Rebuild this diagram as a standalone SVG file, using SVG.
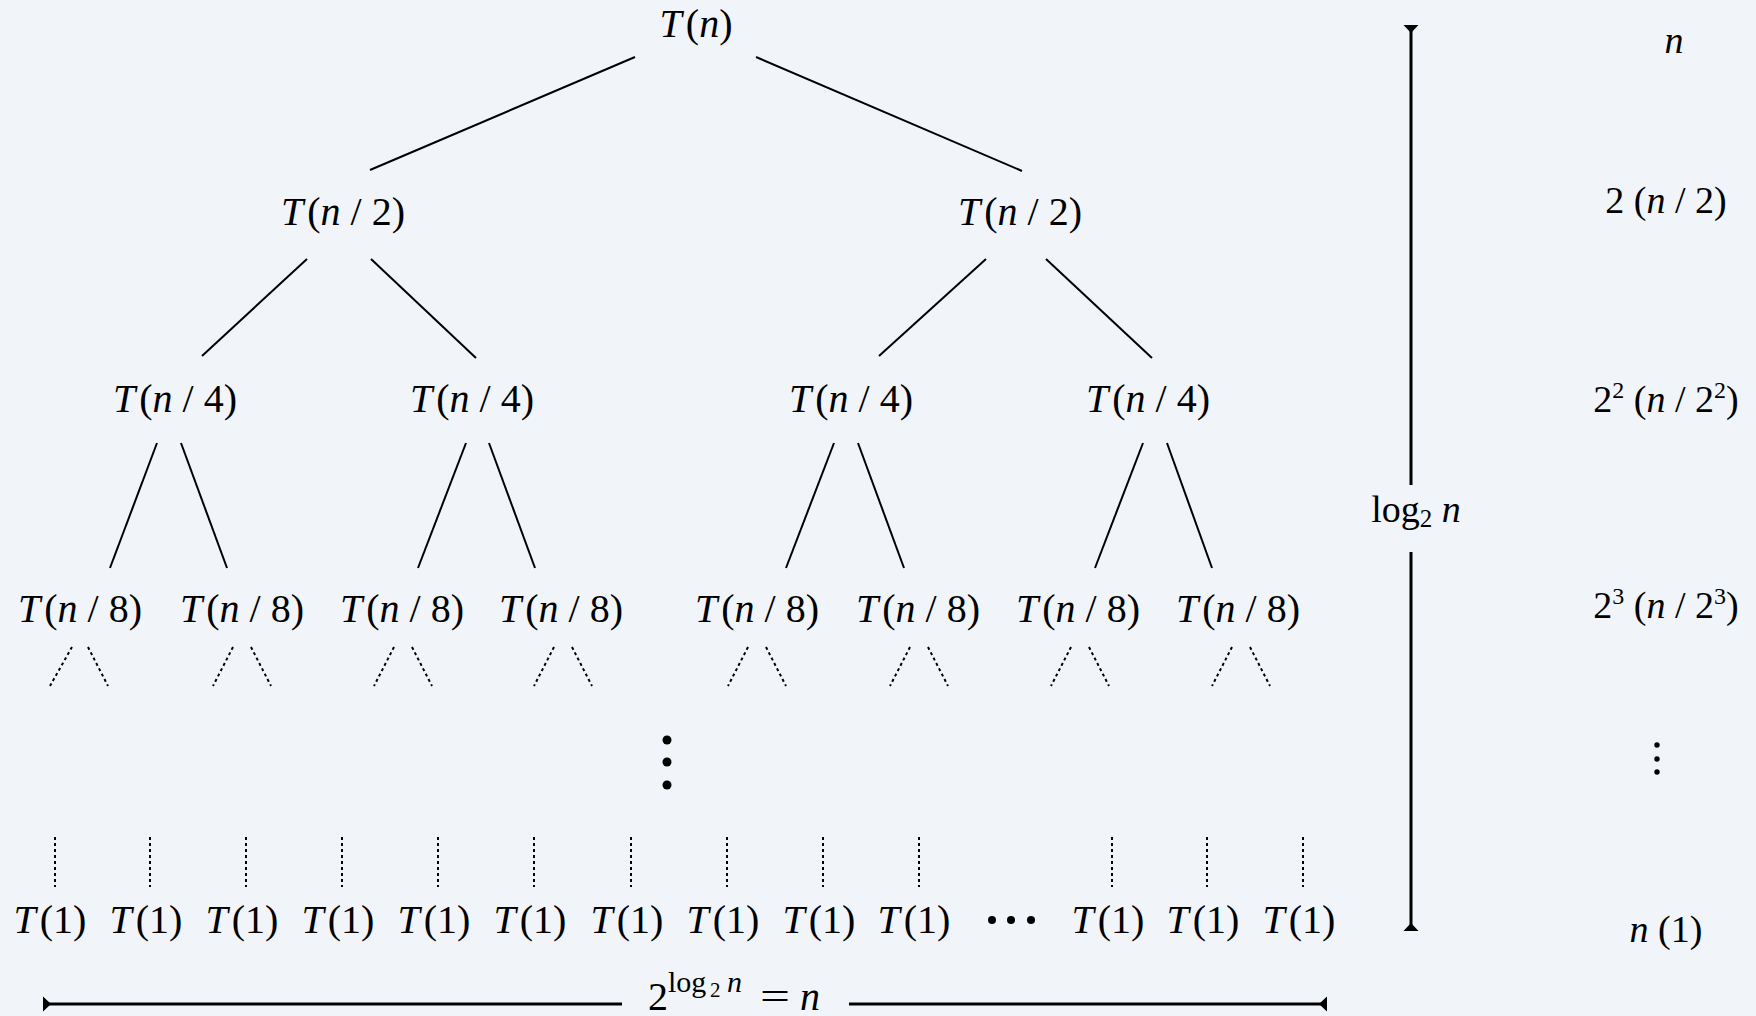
<svg xmlns="http://www.w3.org/2000/svg" width="1756" height="1016" viewBox="0 0 1756 1016">
<style>
.t{font-family:"Liberation Serif","Times New Roman",serif;font-size:40px;fill:#000;text-anchor:middle}
.r{font-family:"Liberation Serif","Times New Roman",serif;font-size:38px;fill:#000;text-anchor:middle}
.w{font-family:"Liberation Serif","Times New Roman",serif;font-size:40px;fill:#000}
.i{font-style:italic}
.e{stroke:#000;stroke-width:2;fill:none}
.d{stroke:#000;stroke-width:2;fill:none;stroke-dasharray:3 3}
.a{stroke:#000;stroke-width:3;fill:none;marker-start:url(#tip);marker-end:url(#tip)}
</style>
<defs>
<marker id="tip" markerUnits="userSpaceOnUse" viewBox="-10 -8 12 16" markerWidth="12" markerHeight="16" refX="0" refY="0" orient="auto-start-reverse" overflow="visible">
<path d="M0,-7.5 L0,7.5 L-8,0 Z" fill="#000"/>
</marker>
</defs>
<rect width="1756" height="1016" fill="#f1f5f9"/>

<g id="connectors">
<line class="e" x1="635" y1="57" x2="370" y2="170"/>
<line class="e" x1="756" y1="57" x2="1022" y2="171"/>
<line class="e" x1="307" y1="259" x2="202" y2="356"/>
<line class="e" x1="371" y1="259" x2="476" y2="358"/>
<line class="e" x1="986" y1="259" x2="879" y2="356"/>
<line class="e" x1="1046" y1="259" x2="1152" y2="358"/>
<line class="e" x1="157" y1="443" x2="110" y2="568"/>
<line class="e" x1="181" y1="443" x2="227" y2="568"/>
<line class="e" x1="466" y1="443" x2="418" y2="568"/>
<line class="e" x1="489" y1="443" x2="535" y2="568"/>
<line class="e" x1="834" y1="443" x2="786" y2="568"/>
<line class="e" x1="858" y1="443" x2="904" y2="568"/>
<line class="e" x1="1143" y1="443" x2="1095" y2="568"/>
<line class="e" x1="1167" y1="443" x2="1212" y2="568"/>
<g id="leaf-stubs">
<path class="d" d="M72,647 L50,686 M88,647 L108,686"/>
<path class="d" d="M233,647 L213,686 M251,647 L271,686"/>
<path class="d" d="M394,647 L374,686 M412,647 L432,686"/>
<path class="d" d="M554,647 L534,686 M572,647 L592,686"/>
<path class="d" d="M748,647 L728,686 M766,647 L786,686"/>
<path class="d" d="M910,647 L890,686 M928,647 L948,686"/>
<path class="d" d="M1071,647 L1051,686 M1089,647 L1109,686"/>
<path class="d" d="M1232,647 L1212,686 M1250,647 L1270,686"/>
</g>
<g id="leaf-verticals">
<path class="d" d="M55,837V887 M150,837V887 M246,837V887 M342,837V887 M438,837V887 M534,837V887 M631,837V887 M727,837V887 M823,837V887 M919,837V887 M1112,837V887 M1207,837V887 M1303,837V887"/>
</g>
<g id="dimensions">
<line class="a" x1="1411" y1="25" x2="1411" y2="485" style="marker-end:none"/>
<line class="a" x1="1411" y1="552" x2="1411" y2="931" style="marker-start:none"/>
<line class="a" x1="43" y1="1004" x2="622" y2="1004" style="marker-end:none"/>
<line class="a" x1="849" y1="1004" x2="1327" y2="1004" style="marker-start:none"/>
</g>
</g>

<g id="n-root"><text class="t" x="696" y="37"><tspan class="i">T</tspan><tspan dx="4">(</tspan><tspan class="i">n</tspan>)</text></g>

<g id="n-2a"><text class="t" x="343" y="225"><tspan class="i">T</tspan><tspan dx="4">(</tspan><tspan class="i">n</tspan> / 2)</text></g>
<g id="n-2b"><text class="t" x="1020" y="225"><tspan class="i">T</tspan><tspan dx="4">(</tspan><tspan class="i">n</tspan> / 2)</text></g>

<g id="n-4a"><text class="t" x="175" y="412"><tspan class="i">T</tspan><tspan dx="4">(</tspan><tspan class="i">n</tspan> / 4)</text></g>
<g id="n-4b"><text class="t" x="472" y="412"><tspan class="i">T</tspan><tspan dx="4">(</tspan><tspan class="i">n</tspan> / 4)</text></g>
<g id="n-4c"><text class="t" x="851" y="412"><tspan class="i">T</tspan><tspan dx="4">(</tspan><tspan class="i">n</tspan> / 4)</text></g>
<g id="n-4d"><text class="t" x="1148" y="412"><tspan class="i">T</tspan><tspan dx="4">(</tspan><tspan class="i">n</tspan> / 4)</text></g>

<g id="n-8a"><text class="t" x="80" y="622"><tspan class="i">T</tspan><tspan dx="4">(</tspan><tspan class="i">n</tspan> / 8)</text></g>
<g id="n-8b"><text class="t" x="242" y="622"><tspan class="i">T</tspan><tspan dx="4">(</tspan><tspan class="i">n</tspan> / 8)</text></g>
<g id="n-8c"><text class="t" x="402" y="622"><tspan class="i">T</tspan><tspan dx="4">(</tspan><tspan class="i">n</tspan> / 8)</text></g>
<g id="n-8d"><text class="t" x="561" y="622"><tspan class="i">T</tspan><tspan dx="4">(</tspan><tspan class="i">n</tspan> / 8)</text></g>
<g id="n-8e"><text class="t" x="757" y="622"><tspan class="i">T</tspan><tspan dx="4">(</tspan><tspan class="i">n</tspan> / 8)</text></g>
<g id="n-8f"><text class="t" x="918" y="622"><tspan class="i">T</tspan><tspan dx="4">(</tspan><tspan class="i">n</tspan> / 8)</text></g>
<g id="n-8g"><text class="t" x="1078" y="622"><tspan class="i">T</tspan><tspan dx="4">(</tspan><tspan class="i">n</tspan> / 8)</text></g>
<g id="n-8h"><text class="t" x="1238" y="622"><tspan class="i">T</tspan><tspan dx="4">(</tspan><tspan class="i">n</tspan> / 8)</text></g>

<g id="vdots-mid" fill="#000"><circle cx="667" cy="740" r="4.5"/><circle cx="667" cy="762" r="4.5"/><circle cx="667" cy="785" r="4.5"/></g>

<g id="leaves">
<text class="t" x="50" y="933"><tspan class="i">T</tspan><tspan dx="4">(1)</tspan></text>
<text class="t" x="146" y="933"><tspan class="i">T</tspan><tspan dx="4">(1)</tspan></text>
<text class="t" x="242" y="933"><tspan class="i">T</tspan><tspan dx="4">(1)</tspan></text>
<text class="t" x="338" y="933"><tspan class="i">T</tspan><tspan dx="4">(1)</tspan></text>
<text class="t" x="434" y="933"><tspan class="i">T</tspan><tspan dx="4">(1)</tspan></text>
<text class="t" x="530" y="933"><tspan class="i">T</tspan><tspan dx="4">(1)</tspan></text>
<text class="t" x="627" y="933"><tspan class="i">T</tspan><tspan dx="4">(1)</tspan></text>
<text class="t" x="723" y="933"><tspan class="i">T</tspan><tspan dx="4">(1)</tspan></text>
<text class="t" x="819" y="933"><tspan class="i">T</tspan><tspan dx="4">(1)</tspan></text>
<text class="t" x="914" y="933"><tspan class="i">T</tspan><tspan dx="4">(1)</tspan></text>
<text class="t" x="1108" y="933"><tspan class="i">T</tspan><tspan dx="4">(1)</tspan></text>
<text class="t" x="1203" y="933"><tspan class="i">T</tspan><tspan dx="4">(1)</tspan></text>
<text class="t" x="1299" y="933"><tspan class="i">T</tspan><tspan dx="4">(1)</tspan></text>
</g>
<g id="hdots" fill="#000"><circle cx="992" cy="920" r="4"/><circle cx="1011" cy="920" r="4"/><circle cx="1031" cy="920" r="4"/></g>

<g id="label-height"><text class="r" x="1416" y="522">log<tspan font-size="25" dy="5">2</tspan><tspan dy="-5"> </tspan><tspan class="i">n</tspan></text></g>

<g id="label-width"><text class="w" x="648" y="1010">2<tspan x="668" y="992" font-size="30">log</tspan><tspan x="710" y="997" font-size="21">2</tspan><tspan x="727" y="992" font-size="30" class="i">n</tspan><tspan x="760" y="1010" textLength="30" lengthAdjust="spacingAndGlyphs">=</tspan><tspan x="800" y="1010" class="i">n</tspan></text></g>

<g id="costs">
<text class="r" x="1674" y="53"><tspan class="i">n</tspan></text>
<text class="r" x="1666" y="213">2 (<tspan class="i">n</tspan> / 2)</text>
<text class="r" x="1666" y="412">2<tspan font-size="24" dy="-14">2</tspan><tspan dy="14"> (</tspan><tspan class="i">n</tspan> / 2<tspan font-size="24" dy="-14">2</tspan><tspan dy="14">)</tspan></text>
<text class="r" x="1666" y="618">2<tspan font-size="24" dy="-14">3</tspan><tspan dy="14"> (</tspan><tspan class="i">n</tspan> / 2<tspan font-size="24" dy="-14">3</tspan><tspan dy="14">)</tspan></text>
<g fill="#000"><circle cx="1657" cy="745" r="2.7"/><circle cx="1657" cy="759" r="2.7"/><circle cx="1657" cy="772" r="2.7"/></g>
<text class="r" x="1666" y="942"><tspan class="i">n</tspan> (1)</text>
</g>
</svg>
